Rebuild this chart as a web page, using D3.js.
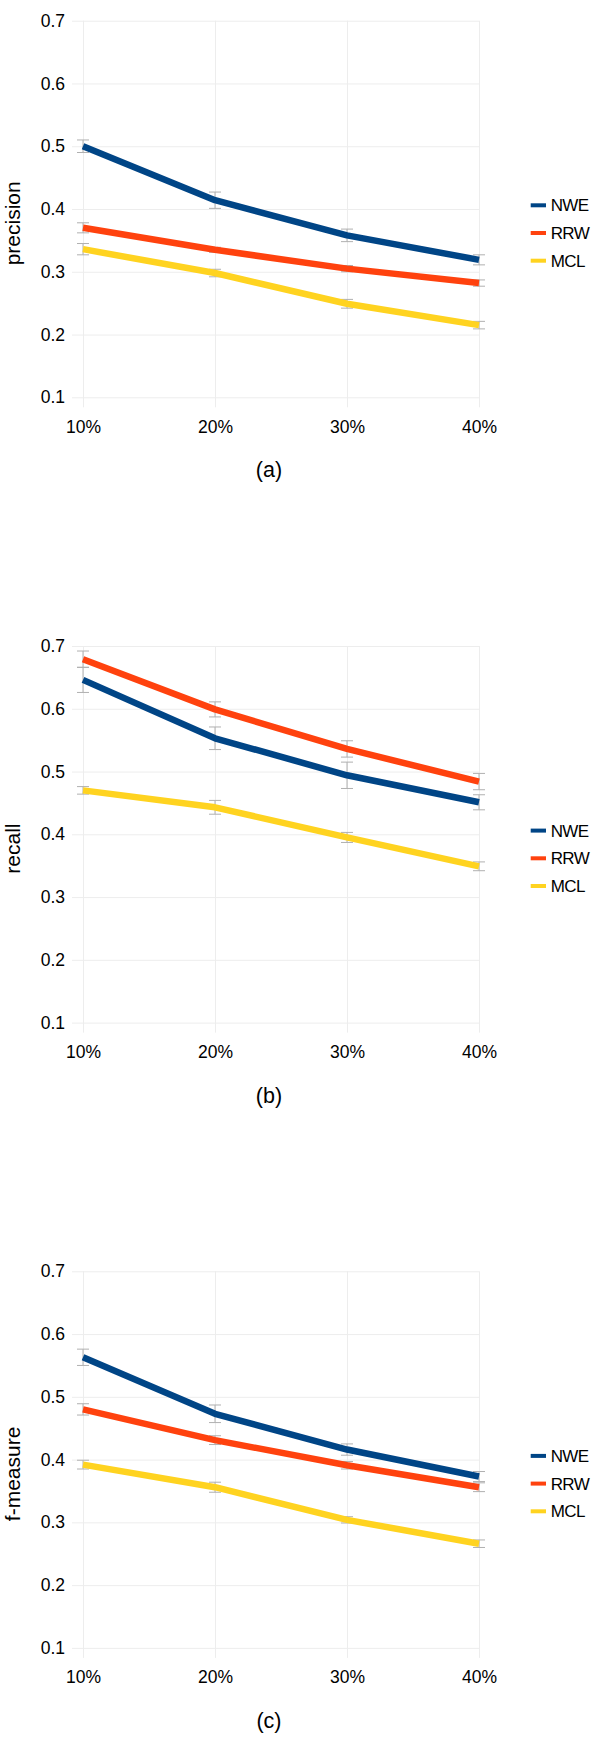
<!DOCTYPE html>
<html>
<head>
<meta charset="utf-8">
<script src="https://cdn.jsdelivr.net/npm/d3@7"></script>
<style>
  html, body { margin: 0; padding: 0; background: #ffffff; }
  svg { display: block; }
  text { font-family: "Liberation Sans", Arial, sans-serif; fill: #000; }
</style>
</head>
<body>
<svg id="chart" width="600" height="1742"></svg>
<script>
// ---------- data ----------
const categories = ["10%", "20%", "30%", "40%"];
const seriesNames = ["NWE", "RRW", "MCL"];
const seriesColors = ["#004586", "#ff420e", "#ffd320"];
const yTicks = [0.1, 0.2, 0.3, 0.4, 0.5, 0.6, 0.7];

const precisionNWE = [0.500, 0.414, 0.358, 0.319];
const precisionRRW = [0.370, 0.335, 0.305, 0.282];
const precisionMCL = [0.336, 0.298, 0.249, 0.215];
const precisionErrNWE = [0.010, 0.013, 0.010, 0.008];
const precisionErrRRW = [0.008, 0.004, 0.005, 0.005];
const precisionErrMCL = [0.009, 0.006, 0.007, 0.006];

const recallNWE = [0.646, 0.553, 0.494, 0.451];
const recallRRW = [0.679, 0.599, 0.536, 0.484];
const recallMCL = [0.470, 0.443, 0.395, 0.349];
const recallErrNWE = [0.020, 0.018, 0.021, 0.012];
const recallErrRRW = [0.013, 0.012, 0.013, 0.013];
const recallErrMCL = [0.006, 0.011, 0.008, 0.007];

const fmeasureNWE = [0.563, 0.473, 0.416, 0.373];
const fmeasureRRW = [0.480, 0.431, 0.391, 0.356];
const fmeasureMCL = [0.392, 0.356, 0.304, 0.266];
const fmeasureErrNWE = [0.013, 0.014, 0.009, 0.008];
const fmeasureErrRRW = [0.009, 0.007, 0.006, 0.007];
const fmeasureErrMCL = [0.007, 0.008, 0.005, 0.006];

const panels = [
  { ylabel: "precision", tag: "(a)",
    values: [precisionNWE, precisionRRW, precisionMCL],
    errors: [precisionErrNWE, precisionErrRRW, precisionErrMCL] },
  { ylabel: "recall", tag: "(b)",
    values: [recallNWE, recallRRW, recallMCL],
    errors: [recallErrNWE, recallErrRRW, recallErrMCL] },
  { ylabel: "f-measure", tag: "(c)",
    values: [fmeasureNWE, fmeasureRRW, fmeasureMCL],
    errors: [fmeasureErrNWE, fmeasureErrRRW, fmeasureErrMCL] }
];

// ---------- layout ----------
const svg = d3.select("#chart");
const panelStep = 625.3;
const firstTop = 20.7;
const plotH = 376.6;
const xLeft = 83, xRight = 479, gridLeft = 72;
const gridColor = "#ededed";

const x = d3.scalePoint().domain(categories).range([xLeft, xRight]);

panels.forEach((p, k) => {
  const T = firstTop + k * panelStep;
  const g = svg.append("g");
  const y = d3.scaleLinear().domain([0.1, 0.7]).range([T + plotH, T]);

  // horizontal gridlines + y tick labels
  const yAxis = d3.axisLeft(y)
    .tickValues(yTicks)
    .tickFormat(d3.format(".1f"))
    .tickSize(-(xRight - gridLeft))
    .tickPadding(7);
  const ya = g.append("g").attr("transform", `translate(${gridLeft},0)`).call(yAxis);
  ya.select(".domain").remove();
  ya.selectAll(".tick line").attr("stroke", gridColor).attr("stroke-width", 1);
  ya.selectAll(".tick text")
    .style("font-family", '"Liberation Sans", Arial, sans-serif')
    .style("font-size", "17.5px").attr("fill", "#000");

  // vertical gridlines + x tick labels
  const xAxis = d3.axisBottom(x).tickSize(plotH + 10).tickPadding(13);
  const xa = g.append("g").attr("transform", `translate(0,${T})`).call(xAxis);
  xa.select(".domain").remove();
  xa.selectAll(".tick line").attr("stroke", gridColor).attr("stroke-width", 1);
  xa.selectAll(".tick text")
    .style("font-family", '"Liberation Sans", Arial, sans-serif')
    .style("font-size", "17.5px").attr("fill", "#000");

  // error bars
  p.values.forEach((vals, si) => {
    const errs = p.errors[si];
    const eb = g.append("g").attr("stroke", "#b0b0b0").attr("stroke-width", 1).attr("fill", "none");
    vals.forEach((v, i) => {
      const cx = x(categories[i]);
      const y1 = y(v + errs[i]), y2 = y(v - errs[i]);
      eb.append("line").attr("x1", cx).attr("x2", cx).attr("y1", y1).attr("y2", y2);
      eb.append("line").attr("x1", cx - 6).attr("x2", cx + 6).attr("y1", y1).attr("y2", y1);
      eb.append("line").attr("x1", cx - 6).attr("x2", cx + 6).attr("y1", y2).attr("y2", y2);
    });
  });

  // lines (draw MCL first so NWE on top)
  const line = d3.line().x((d, i) => x(categories[i])).y(d => y(d));
  [2, 1, 0].forEach(si => {
    g.append("path")
      .datum(p.values[si])
      .attr("d", line)
      .attr("fill", "none")
      .attr("stroke", seriesColors[si])
      .attr("stroke-width", 6.5)
      .attr("stroke-linejoin", "round")
      .attr("stroke-linecap", "butt");
  });

  // y label
  g.append("text")
    .attr("transform", `translate(20,${T + 202.6}) rotate(-90)`)
    .attr("text-anchor", "middle")
    .style("font-size", "21px")
    .text(p.ylabel);

  // panel tag
  g.append("text")
    .attr("x", 269).attr("y", T + 456.6)
    .attr("text-anchor", "middle")
    .style("font-size", "21.5px")
    .text(p.tag);

  // legend
  seriesNames.forEach((name, si) => {
    const ly = T + 184.6 + si * 27.7;
    g.append("line")
      .attr("x1", 530.7).attr("x2", 546).attr("y1", ly).attr("y2", ly)
      .attr("stroke", seriesColors[si]).attr("stroke-width", 4);
    g.append("text")
      .attr("x", 550.7).attr("y", ly).attr("dy", "0.36em")
      .style("font-size", "17px")
      .style("letter-spacing", "-0.6px")
      .text(name);
  });
});
</script>
</body>
</html>
